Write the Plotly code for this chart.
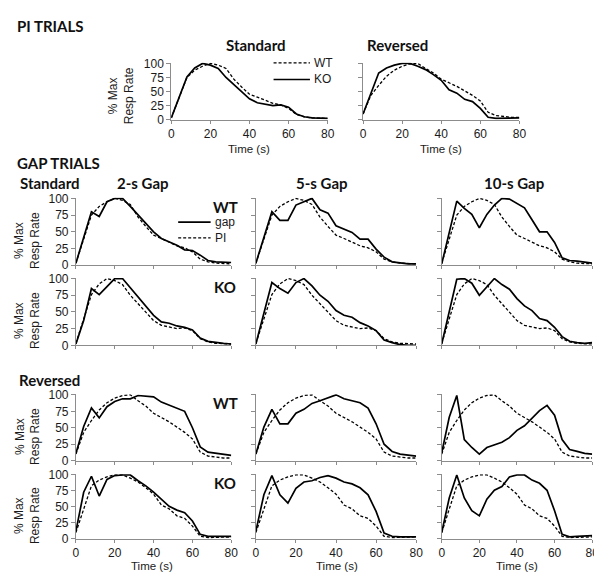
import plotly.graph_objects as go

W, H = 602, 574

TIME = [0, 4, 8, 12, 16, 20, 24, 28, 32, 36, 40, 44, 48, 52, 56, 60, 64, 68, 72, 76, 80]
X_TICKS = [0, 20, 40, 60, 80]
Y_TICKS = [0, 25, 50, 75, 100]

# PI trials (peak-interval), % of max response rate
PI_STD_WT = [3, 40, 75, 88, 95, 100, 97, 91, 72, 58, 45, 40, 35, 29, 26, 20, 9, 5, 3, 2, 2]
PI_STD_KO = [3, 40, 76, 92, 100, 97, 91, 75, 62, 50, 37, 30, 27, 25, 26, 22, 10, 5, 3, 2, 2]
PI_REV_WT = [10, 43, 61, 77, 88, 95, 99, 100, 91, 83, 72, 66, 59, 51, 43, 33, 13, 7, 5, 4, 4]
PI_REV_KO = [10, 47, 83, 92, 97, 100, 100, 95, 89, 80, 70, 53, 47, 36, 32, 20, 4, 2, 2, 3, 3]

# gap trials, standard
GAP2_STD_WT = [3, 40, 80, 73, 95, 100, 100, 88, 75, 62, 50, 40, 35, 30, 23, 22, 15, 7, 5, 5, 4]
GAP2_STD_KO = [2, 37, 85, 76, 88, 100, 100, 86, 73, 59, 45, 35, 33, 29, 27, 23, 11, 6, 4, 3, 2]
GAP5_STD_WT = [3, 42, 80, 67, 67, 90, 95, 100, 83, 78, 59, 54, 49, 39, 39, 24, 12, 5, 3, 2, 2]
GAP5_STD_KO = [2, 48, 94, 85, 78, 94, 100, 89, 75, 66, 52, 45, 42, 34, 29, 22, 8, 4, 1, 0, 0]
GAP10_STD_WT = [2, 50, 96, 85, 76, 56, 76, 90, 100, 99, 93, 86, 68, 50, 50, 34, 11, 7, 6, 5, 3]
GAP10_STD_KO = [2, 52, 99, 100, 93, 75, 87, 100, 91, 84, 70, 59, 52, 40, 37, 27, 13, 6, 4, 3, 4]

# gap trials, reversed
GAP2_REV_WT = [11, 52, 80, 65, 82, 90, 94, 94, 99, 98, 97, 89, 84, 79, 75, 50, 21, 13, 11, 10, 8]
GAP2_REV_KO = [12, 73, 98, 67, 93, 99, 100, 100, 91, 83, 73, 62, 51, 45, 41, 28, 7, 4, 4, 4, 4]
GAP5_REV_WT = [10, 51, 78, 56, 56, 72, 78, 87, 91, 96, 100, 94, 91, 88, 80, 56, 25, 14, 10, 8, 7]
GAP5_REV_KO = [12, 69, 99, 69, 56, 79, 89, 91, 96, 99, 95, 89, 86, 80, 69, 43, 9, 4, 3, 3, 3]
GAP10_REV_WT = [12, 66, 99, 32, 20, 10, 20, 24, 28, 35, 46, 53, 64, 76, 84, 69, 32, 17, 14, 11, 10]
GAP10_REV_KO = [10, 64, 100, 64, 44, 36, 62, 76, 82, 97, 100, 100, 92, 87, 76, 44, 7, 3, 4, 5, 5]

GREY = "#8c8c8c"
TICK_FONT = dict(family="Liberation Sans", size=12, color="#1a1a1a")
LABEL_FONT = dict(family="Liberation Sans", size=12, color="#1a1a1a")
TIME_FONT = dict(family="Liberation Sans", size=11.5, color="#1a1a1a")
HEAD_FONT = dict(family="Lato", size=15, color="#111111")
SOLID = dict(color="black", width=1.7)
DASHED = dict(color="black", width=1.3, dash="3px,2px")

fig = go.Figure()


def add_panel(n, x0, x1, y0, y1, xlabels, ylabels, dashed, solid):
    sfx = "" if n == 1 else str(n)
    fig.update_layout({
        f"xaxis{sfx}": dict(
            domain=[x0 / W, x1 / W], anchor=f"y{sfx}", range=[0, 80],
            tickvals=X_TICKS, showticklabels=xlabels, ticks="outside", ticklen=3,
            tickcolor=GREY, showline=True, linecolor=GREY, linewidth=1,
            showgrid=False, zeroline=False, tickfont=TICK_FONT, fixedrange=True,
        ),
        f"yaxis{sfx}": dict(
            domain=[1 - y1 / H, 1 - y0 / H], anchor=f"x{sfx}", range=[0, 101],
            tickvals=Y_TICKS, showticklabels=ylabels, ticks="outside", ticklen=4,
            tickcolor=GREY, showline=True, linecolor=GREY, linewidth=1,
            showgrid=False, zeroline=False, tickfont=TICK_FONT, fixedrange=True,
        ),
    })
    fig.add_trace(go.Scatter(x=TIME, y=dashed, mode="lines", line=DASHED,
                             xaxis=f"x{sfx}", yaxis=f"y{sfx}", hoverinfo="skip"))
    fig.add_trace(go.Scatter(x=TIME, y=solid, mode="lines", line=SOLID,
                             xaxis=f"x{sfx}", yaxis=f"y{sfx}", hoverinfo="skip"))


# PI trials
add_panel(1, 163, 322, 50, 108, True, True, PI_STD_WT, PI_STD_KO)
add_panel(2, 358, 517, 50, 108, True, False, PI_REV_WT, PI_REV_KO)

# gap trials grid
cols = [(66, 224), (249, 412), (438, 591)]
rows = [(188, 257), (270, 339), (389, 457), (471, 537)]
grid = [
    [(PI_STD_WT, GAP2_STD_WT), (PI_STD_WT, GAP5_STD_WT), (PI_STD_WT, GAP10_STD_WT)],
    [(PI_STD_KO, GAP2_STD_KO), (PI_STD_KO, GAP5_STD_KO), (PI_STD_KO, GAP10_STD_KO)],
    [(PI_REV_WT, GAP2_REV_WT), (PI_REV_WT, GAP5_REV_WT), (PI_REV_WT, GAP10_REV_WT)],
    [(PI_REV_KO, GAP2_REV_KO), (PI_REV_KO, GAP5_REV_KO), (PI_REV_KO, GAP10_REV_KO)],
]
n = 3
for r, (ry0, ry1) in enumerate(rows):
    for c, (cx0, cx1) in enumerate(cols):
        pi, gap = grid[r][c]
        add_panel(n, cx0, cx1, ry0, ry1, r == 3, c == 0, pi, gap)
        n += 1


def text(x, y, s, font, xanchor="center", angle=0):
    fig.add_annotation(x=x / W, y=1 - y / H, xref="paper", yref="paper", text=s,
                       showarrow=False, font=font, xanchor=xanchor, yanchor="middle",
                       textangle=angle, borderpad=0)


def seg(x0, x1, y, line):
    fig.add_shape(type="line", xref="paper", yref="paper",
                  x0=x0 / W, x1=x1 / W, y0=1 - y / H, y1=1 - y / H, line=line)


text(5, 12, "<b>PI TRIALS</b>", HEAD_FONT, "left")
text(5, 152, "<b>GAP TRIALS</b>", HEAD_FONT, "left")
text(249, 32, "<b>Standard</b>", HEAD_FONT)
text(393, 32, "<b>Reversed</b>", HEAD_FONT)

text(112, 84, "% Max<br>Resp Rate", LABEL_FONT, angle=-90)
text(242, 138, "Time (s)", TIME_FONT)
text(437, 138, "Time (s)", TIME_FONT)

# PI legend
seg(267, 304, 50, DASHED)
seg(267, 304, 67, SOLID)
text(307, 50, "WT", TICK_FONT, "left")
text(307, 67, "KO", TICK_FONT, "left")

# gap headers
text(40, 173, "<b>Standard</b>", HEAD_FONT)
text(134, 173, "<b>2-s Gap</b>", HEAD_FONT)
text(316, 173, "<b>5-s Gap</b>", HEAD_FONT)
text(511, 173, "<b>10-s Gap</b>", HEAD_FONT)
text(39, 374, "<b>Reversed</b>", HEAD_FONT)

for (ry0, ry1), lab in zip(rows, ["WT", "KO", "WT", "KO"]):
    text(17, (ry0 + ry1) / 2 + 9, "% Max<br>Resp Rate", LABEL_FONT, angle=-90)
    text(218, ry0 + 9, f"<b>{lab}</b>", HEAD_FONT)

for cx in [143, 331, 515]:
    text(cx, 565, "Time (s)", TIME_FONT)

# gap legend
seg(170, 203, 213, SOLID)
seg(170, 203, 229, DASHED)
text(206, 213, "gap", TICK_FONT, "left")
text(206, 229, "PI", TICK_FONT, "left")

fig.update_layout(
    width=W, height=H,
    margin=dict(l=0, r=0, t=0, b=0),
    paper_bgcolor="white", plot_bgcolor="white",
    showlegend=False,
)

fig.write_html("out.html")
